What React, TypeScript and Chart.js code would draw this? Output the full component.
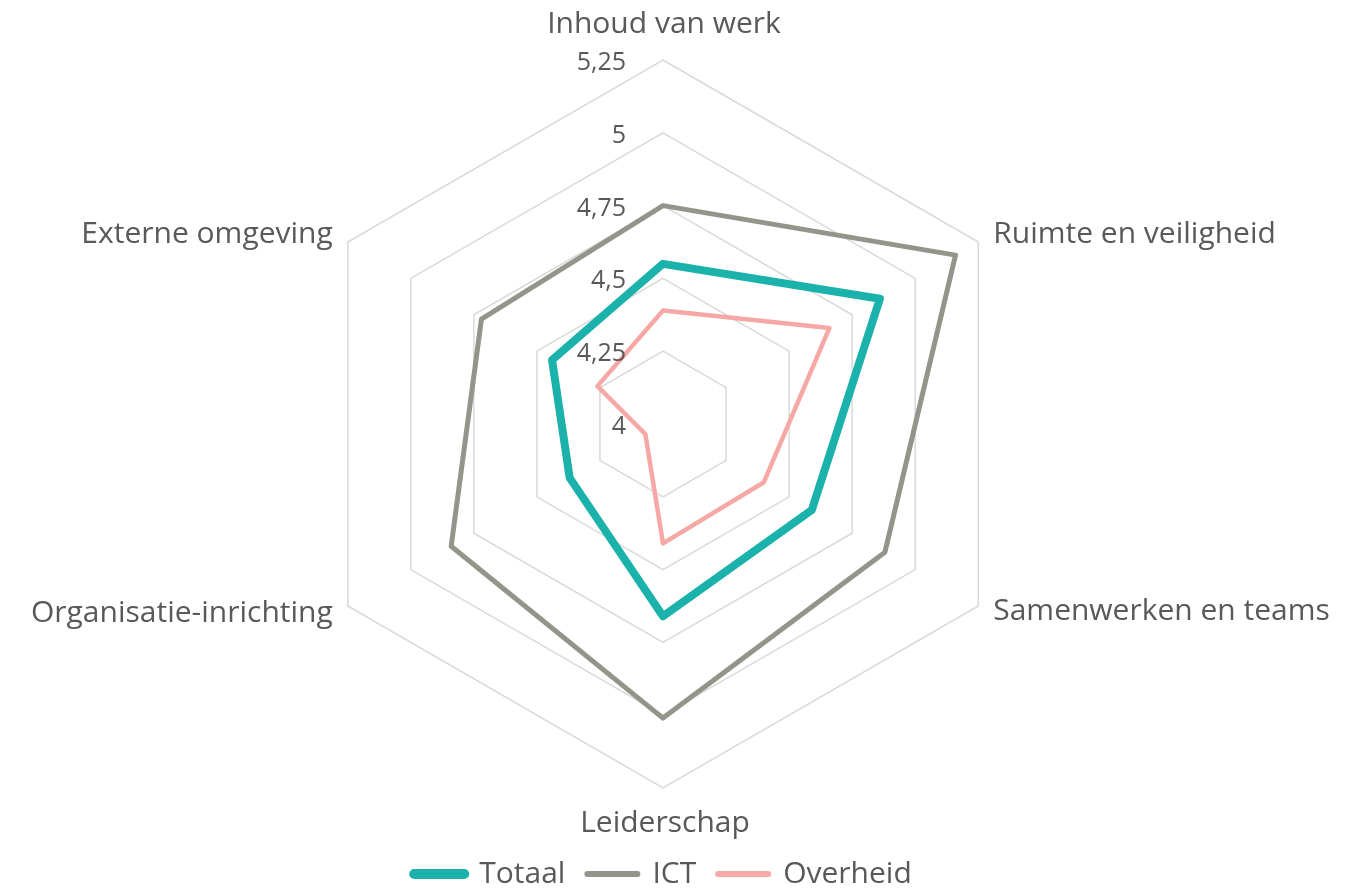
import React, { useEffect, useRef } from "react";
import { Chart, registerables } from "chart.js";

Chart.register(...registerables);

const CATEGORIES = [
  "Inhoud van werk",
  "Ruimte en veiligheid",
  "Samenwerken en teams",
  "Leiderschap",
  "Organisatie-inrichting",
  "Externe omgeving",
];

const TOTAAL = [4.55, 4.86, 4.59, 4.66, 4.37, 4.44];
const ICT = [4.75, 5.16, 4.88, 5.01, 4.84, 4.72];
const OVERHEID = [4.39, 4.66, 4.4, 4.41, 4.07, 4.26];

const SCALE_MIN = 4;
const SCALE_MAX = 5.25;
const SCALE_STEP = 0.25;
const TICK_LABELS = ["4", "4,25", "4,5", "4,75", "5", "5,25"];

const SERIES_NAMES = ["Totaal", "ICT", "Overheid"];
const SERIES_COLORS = ["#1AB2AA", "#93958A", "#F5A8A5"];
const SERIES_WIDTHS = [8, 5, 4.5];
const LEGEND_WIDTHS = [10, 6, 6];

const TEXT_COLOR = "#595959";
const FONT_FAMILY = '"Open Sans", sans-serif';

const textPlugin = {
  id: "radarText",
  afterDraw(chart: any) {
    const s = chart.scales.r;
    const ctx = chart.ctx;
    ctx.save();
    ctx.fillStyle = TEXT_COLOR;
    // tick labels
    ctx.font = `25px ${FONT_FAMILY}`;
    ctx.textAlign = "right";
    ctx.textBaseline = "alphabetic";
    s.ticks.forEach((t: any) => {
      const y = s.yCenter - s.getDistanceFromCenterForValue(t.value);
      ctx.fillText(t.label, s.xCenter - 37, y + 10);
    });
    // point labels
    ctx.font = `30px ${FONT_FAMILY}`;
    const place = [
      { a: "center", dx: 1, dy: -27 },
      { a: "left", dx: 15, dy: 1 },
      { a: "left", dx: 15, dy: 14 },
      { a: "center", dx: 2, dy: 44 },
      { a: "right", dx: -15, dy: 16 },
      { a: "right", dx: -15, dy: 1 },
    ];
    (chart.data.labels as string[]).forEach((lab, i) => {
      const p = s.getPointPosition(i, s.drawingArea);
      const o = place[i];
      ctx.textAlign = o.a;
      ctx.fillText(lab, p.x + o.dx, p.y + o.dy);
    });
    ctx.restore();
  },
};

export default function App() {
  const ref = useRef<HTMLCanvasElement | null>(null);

  useEffect(() => {
    if (!ref.current) return;
    const values = [TOTAAL, ICT, OVERHEID];
    const chart = new Chart(ref.current, {
      type: "radar",
      data: {
        labels: CATEGORIES,
        datasets: SERIES_NAMES.map((name, i) => ({
          label: name,
          data: values[i],
          borderColor: SERIES_COLORS[i],
          backgroundColor: SERIES_COLORS[i],
          borderWidth: SERIES_WIDTHS[i],
          borderJoinStyle: "round" as const,
          pointRadius: 0,
          pointHoverRadius: 0,
          fill: false,
          tension: 0,
        })),
      },
      options: {
        responsive: false,
        devicePixelRatio: 1,
        animation: false,
        events: [],
        layout: { padding: { left: 299, right: 329, top: 11, bottom: 0 } },
        scales: {
          r: {
            min: SCALE_MIN,
            max: SCALE_MAX,
            beginAtZero: false,
            ticks: {
              stepSize: SCALE_STEP,
              display: false,
              callback: (_v: any, index: number) => TICK_LABELS[index],
            },
            pointLabels: { display: false },
            angleLines: { display: false },
            grid: { color: "#D9D9D9", lineWidth: 1.5 },
          },
        },
        plugins: {
          tooltip: { enabled: false },
          legend: {
            position: "bottom",
            maxHeight: 55,
            labels: {
              font: { family: FONT_FAMILY, size: 30 },
              color: TEXT_COLOR,
              boxWidth: 50,
              boxHeight: 0,
              padding: 22,
              generateLabels: (c: any) =>
                c.data.datasets.map((d: any, i: number) => ({
                  text: d.label,
                  fillStyle: d.borderColor,
                  strokeStyle: d.borderColor,
                  lineWidth: LEGEND_WIDTHS[i],
                  lineJoin: "round",
                  lineCap: "round",
                  hidden: false,
                  datasetIndex: i,
                  fontColor: TEXT_COLOR,
                })),
            },
          },
        },
      },
      plugins: [textPlugin],
    } as any);
    document.fonts?.load(`30px "Open Sans"`).then(() => chart.update());
    return () => chart.destroy();
  }, []);

  return (
    <div style={{ position: "fixed", left: 0, top: 0, width: 1356, height: 892, background: "#fff" }}>
      <canvas ref={ref} width={1356} height={892} style={{ display: "block" }} />
    </div>
  );
}
